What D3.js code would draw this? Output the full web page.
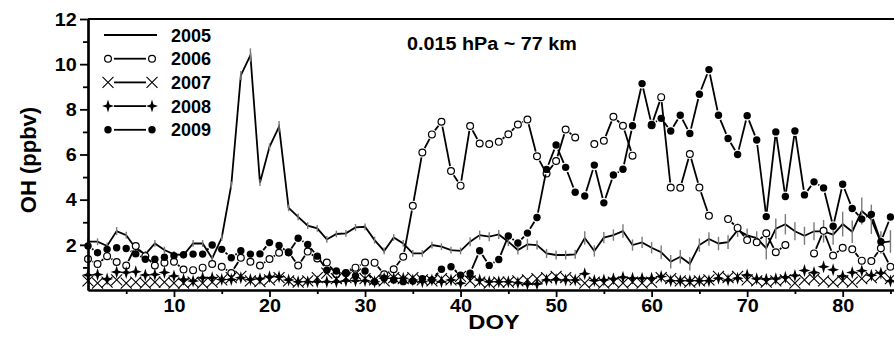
<!DOCTYPE html>
<html>
<head>
<meta charset="utf-8">
<script src="https://cdn.jsdelivr.net/npm/d3@7"></script>
<style>
  body { margin: 0; background: #fff; }
  svg text { font-family: "Liberation Sans", Arial, sans-serif; font-weight: bold; fill: #000; }
</style>
</head>
<body>
<svg id="chart" width="894" height="350"></svg>
<script>
// day of year 1..85
const days = d3.range(1, 86);

const oh2005 = [2.14,2.14,1.95,2.61,2.43,1.84,1.58,2.06,1.77,1.58, 1.55,2.06,2.06,1.40,2.32,4.65,9.5,10.4,4.75,6.34,
  7.23,3.64,3.24,2.85,2.73,2.24,2.48,2.51,2.77,2.80, 2.21,1.73,2.33,2.06,1.62,1.62,1.99,1.92,1.77,1.73,
  2.14,2.43,2.36,2.46,2.14,1.77,2.02,1.99,1.62,1.55, 1.55,1.58,2.3,1.73,2.32,2.43,2.61,1.99,2.11,1.87,
  1.67,1.25,1.47,1.16,1.99,2.26,2.06,2.12,2.65,2.42, 2.3,1.85,2.72,2.91,2.6,2.4,2.6,2.6,2.45,2.92,
  2.58,3.5,3.13,2.1,2.15];
const err2005 = [0.15,0.15,0.15,0.18,0.15,0.15,0.15,0.15,0.15,0.15, 0.15,0.15,0.15,0.15,0.15,0.15,0.2,0.3,0.15,0.15,
  0.25,0.15,0.15,0.15,0.15,0.15,0.15,0.15,0.15,0.15, 0.15,0.15,0.15,0.15,0.15,0.15,0.15,0.15,0.15,0.15,
  0.2,0.2,0.2,0.2,0.2,0.2,0.25,0.2,0.2,0.2, 0.2,0.2,0.3,0.25,0.25,0.25,0.3,0.25,0.25,0.25,
  0.3,0.3,0.3,0.3,0.3,0.3,0.3,0.3,0.3,0.3, 0.3,0.5,0.45,0.45,0.4,0.4,0.4,0.5,0.45,0.55,
  0.5,0.6,0.65,0.5,0.5];
const oh2006 = [1.37,1.15,1.50,1.24,1.08,1.95,1.5,1.08,1.21,1.25, 0.91,0.88,0.99,1.15,1.03,0.75,1.43,1.25,1.08,1.37,
  1.65,1.67,1.08,1.70,1.40,1.22,0.7,0.75,0.99,1.22, 1.21,0.7,0.92,1.47,3.73,6.09,6.89,7.45,5.27,4.62,
  7.26,6.49,6.46,6.56,6.9,7.33,7.55,5.92,5.16,5.71, 7.11,6.75,null,6.46,6.61,7.67,7.27,5.95,null,7.3,
  8.54,4.54,4.53,6.02,4.54,3.29,null,3.14,2.75,2.21, 2.11,2.51,1.67,1.99,null,null,1.62,2.62,1.53,1.87,
  1.8,1.3,1.28,1.85,1.03];
const oh2007 = [0.4,0.3,0.35,0.45,0.3,0.35,0.3,0.35,0.35,0.3, 0.3,0.35,0.3,0.35,0.45,0.55,0.6,0.4,0.37,0.45,
  0.55,0.4,0.35,0.4,0.55,0.75,0.5,0.55,0.7,0.5, 0.45,0.4,0.55,0.5,0.55,0.45,0.4,0.5,0.45,0.6,
  0.4,0.35,0.3,0.35,0.35,0.4,0.45,0.5,0.55,0.6, 0.55,0.45,0.3,0.35,0.3,0.35,0.3,0.35,0.3,0.35,
  0.55,0.5,0.4,0.35,0.4,0.45,0.6,0.55,0.6,0.45, 0.4,0.35,0.4,0.45,0.3,0.45,0.5,0.4,0.35,0.4,
  0.35,0.5,0.55,0.65,0.5];
const oh2008 = [0.66,0.69,0.49,0.8,0.78,0.81,0.66,0.69,0.77,0.62, 0.47,0.40,0.54,0.54,0.47,0.47,0.54,0.47,0.5,0.59,
  0.59,0.44,0.37,0.37,0.37,0.37,0.37,0.41,0.41,0.41, 0.37,0.52,0.52,0.52,0.44,0.37,0.44,0.37,0.44,0.3,
  0.6,0.44,0.37,0.37,0.37,0.32,0.27,0.27,0.44,0.47, 0.44,0.44,0.72,0.42,0.44,0.5,0.56,0.52,0.52,0.52,
  0.6,0.41,0.41,0.41,0.41,0.41,0.52,0.44,0.52,0.66, 0.5,0.48,0.5,0.56,0.64,0.86,0.77,1.03,0.9,0.62,
  0.77,0.85,0.65,0.75,0.4];
const oh2009 = [1.95,1.65,1.80,1.87,1.84,1.6,1.36,1.36,1.45,1.52, 1.56,1.59,1.59,1.99,1.80,1.43,1.74,1.59,1.60,2.10,
  1.97,1.65,2.29,2.02,1.50,0.88,0.84,0.74,0.62,0.84, 0.37,0.52,0.44,0.37,0.4,0.5,0.45,0.92,1.03,0.66,
  0.74,1.74,1.09,1.35,2.39,2.08,2.52,3.21,5.34,6.42, 5.43,4.33,4.16,5.53,3.86,5.09,5.35,7.27,9.14,7.33,
  7.60,7.04,7.74,6.93,8.67,9.76,7.74,6.71,6.00,7.72, 6.64,3.25,7.0,4.14,7.04,4.21,4.79,4.52,2.82,4.68,
  3.61,3.14,3.35,2.14,3.23];

const yMajor = [2, 4, 6, 8, 10, 12];
const yMinor = [1, 3, 5, 7, 9, 11];
const xMajor = [10, 20, 30, 40, 50, 60, 70, 80];
const xMinor = [5, 15, 25, 35, 45, 55, 65, 75, 85];
const legendLabels = ['2005', '2006', '2007', '2008', '2009'];

const svg = d3.select('#chart');
const x = d3.scaleLinear().domain([1, 86]).range([88, 900]);
const y = d3.scaleLinear().domain([0, 12]).range([290, 19]);
const stretch = 1.13; // text in the original is a bit wide

// marker shapes
const starPath = 'M0,-6.5L1.5,-1.5L6,0L1.5,1.5L0,6.5L-1.5,1.5L-6,0L-1.5,-1.5Z';
function drawMarker(g, kind, cx, cy) {
  if (kind === 'open') {
    g.append('circle').attr('cx', cx).attr('cy', cy).attr('r', 3.4)
      .attr('fill', '#fff').attr('stroke', '#000').attr('stroke-width', 1.2);
  } else if (kind === 'dot') {
    g.append('circle').attr('cx', cx).attr('cy', cy).attr('r', 3.7).attr('fill', '#000');
  } else if (kind === 'cross') {
    g.append('path').attr('d', `M${cx - 5.5},${cy - 5.5}L${cx + 5.5},${cy + 5.5}M${cx - 5.5},${cy + 5.5}L${cx + 5.5},${cy - 5.5}`)
      .attr('stroke', '#000').attr('stroke-width', 1.1).attr('fill', 'none');
  } else if (kind === 'star') {
    g.append('path').attr('d', starPath).attr('transform', `translate(${cx},${cy})`).attr('fill', '#000');
  }
}

// line segments between points, cut back around each marker (gap style)
function gapSegments(vals, gap) {
  const pts = days.map((d, i) => vals[i] == null ? null : [x(d), y(vals[i])]);
  const segs = [];
  for (let i = 0; i < pts.length - 1; i++) {
    const a = pts[i], b = pts[i + 1];
    if (!a || !b) continue;
    const dx = b[0] - a[0], dy = b[1] - a[1];
    const len = Math.hypot(dx, dy);
    if (len <= 2 * gap + 0.5) continue;
    const ux = dx / len, uy = dy / len;
    segs.push([a[0] + ux * gap, a[1] + uy * gap, b[0] - ux * gap, b[1] - uy * gap]);
  }
  return segs;
}

const plot = svg.append('g');

// 2005: plain line with grey error bars
plot.append('path')
  .datum(days.map((d, i) => [d, oh2005[i]]))
  .attr('fill', 'none').attr('stroke', '#000').attr('stroke-width', 1.8)
  .attr('d', d3.line().x(d => x(d[0])).y(d => y(d[1])));

plot.selectAll('line.err')
  .data(days.map((d, i) => [d, oh2005[i], err2005[i]]))
  .enter().append('line')
  .attr('class', 'err')
  .attr('x1', d => x(d[0])).attr('x2', d => x(d[0]))
  .attr('y1', d => y(d[1] - d[2])).attr('y2', d => y(d[1] + d[2]))
  .attr('stroke', '#7a7a7a').attr('stroke-width', 1.4);

const markedSeries = [
  { vals: oh2006, kind: 'open', gap: 5 },
  { vals: oh2007, kind: 'cross', gap: 6 },
  { vals: oh2008, kind: 'star', gap: 6 },
  { vals: oh2009, kind: 'dot', gap: 5 }
];

markedSeries.forEach(s => {
  const g = plot.append('g');
  g.selectAll('line')
    .data(gapSegments(s.vals, s.gap))
    .enter().append('line')
    .attr('x1', d => d[0]).attr('y1', d => d[1])
    .attr('x2', d => d[2]).attr('y2', d => d[3])
    .attr('stroke', '#000').attr('stroke-width', 1.8);
  days.forEach((d, i) => {
    if (s.vals[i] != null) drawMarker(g, s.kind, x(d), y(s.vals[i]));
  });
});

// frame: top line
svg.append('line').attr('x1', 88).attr('x2', 894).attr('y1', y(12)).attr('y2', y(12))
  .attr('stroke', '#000').attr('stroke-width', 2);

// axes
const yAxis = svg.append('g').attr('transform', 'translate(88,0)')
  .call(d3.axisLeft(y).tickValues(yMajor).tickSize(8).tickSizeOuter(0).tickPadding(2));
const yMinorAxis = svg.append('g').attr('transform', 'translate(88,0)')
  .call(d3.axisLeft(y).tickValues(yMinor).tickSize(5).tickSizeOuter(0).tickFormat(''));
const xAxis = svg.append('g').attr('transform', `translate(0,${y(0)})`)
  .call(d3.axisBottom(x).tickValues(xMajor).tickSize(7).tickSizeOuter(0).tickPadding(3));
const xMinorAxis = svg.append('g').attr('transform', `translate(0,${y(0)})`)
  .call(d3.axisBottom(x).tickValues(xMinor).tickSize(4).tickSizeOuter(0).tickFormat(''));

[yAxis, yMinorAxis, xAxis, xMinorAxis].forEach(a => {
  a.select('.domain').attr('stroke-width', 2.2);
  a.selectAll('.tick line').attr('stroke-width', 1.8);
});
yAxis.selectAll('.tick text').style('font-size', '17.5px').attr('dy', '0.36em')
  .attr('transform', `scale(${stretch},1)`);
xAxis.selectAll('.tick text').style('font-size', '17.5px')
  .attr('transform', `scale(${stretch},1)`);

svg.append('text').attr('transform', `translate(494,329) scale(${stretch},1)`).attr('text-anchor', 'middle')
  .style('font-size', '21px').text('DOY');
svg.append('text').attr('transform', 'translate(36,160) rotate(-90)').attr('text-anchor', 'middle')
  .style('font-size', '22px').text('OH (ppbv)');
svg.append('text').attr('transform', `translate(407,50) scale(${stretch},1)`)
  .style('font-size', '17.5px').text('0.015 hPa ~ 77 km');

// legend
const legend = svg.append('g');
const legendKinds = [null, 'open', 'cross', 'star', 'dot'];
legendLabels.forEach((lab, i) => {
  const ly = 35 + i * 23.7;
  const g = legend.append('g');
  if (legendKinds[i] == null) {
    g.append('line').attr('x1', 104).attr('x2', 157).attr('y1', ly).attr('y2', ly)
      .attr('stroke', '#000').attr('stroke-width', 1.8);
  } else {
    g.append('line').attr('x1', 114).attr('x2', 146).attr('y1', ly).attr('y2', ly)
      .attr('stroke', '#000').attr('stroke-width', 1.8);
    drawMarker(g, legendKinds[i], 108, ly);
    drawMarker(g, legendKinds[i], 152, ly);
  }
  g.append('text').attr('x', 171).attr('y', ly + 6.5).style('font-size', '18px').text(lab);
});
</script>
</body>
</html>
